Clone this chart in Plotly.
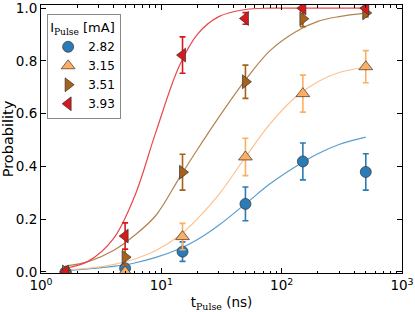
import plotly.graph_objects as go

# ---- data ----
t_data = [1.6, 5, 15, 50, 150, 500]
currents = ["2.82", "3.15", "3.51", "3.93"]

p_282 = [0.0, 0.014, 0.077, 0.258, 0.419, 0.379]
e_282 = [0.004, 0.012, 0.037, 0.064, 0.070, 0.069]
p_315 = [0.0, 0.0, 0.134, 0.436, 0.676, 0.778]
e_315 = [0.004, 0.008, 0.05, 0.071, 0.070, 0.061]
p_351 = [0.0, 0.056, 0.378, 0.721, 0.960, 0.982]
e_351 = [0.004, 0.03, 0.068, 0.063, 0.03, 0.015]
p_393 = [0.0, 0.136, 0.822, 0.961, 1.0, 1.0]
e_393 = [0.004, 0.05, 0.069, 0.022, 0.01, 0.005]

# fitted curves
t_fit = [1.6, 2.5, 4, 6, 9, 14, 20, 30, 50, 80, 130, 200, 300, 500]
f_282 = [0.006, 0.012, 0.021, 0.034, 0.055, 0.087, 0.123, 0.177, 0.258, 0.334, 0.399, 0.448, 0.483, 0.511]
f_315 = [0.008, 0.014, 0.028, 0.049, 0.081, 0.136, 0.202, 0.293, 0.435, 0.561, 0.662, 0.721, 0.756, 0.776]
f_351 = [0.022, 0.040, 0.081, 0.139, 0.214, 0.354, 0.465, 0.586, 0.728, 0.839, 0.910, 0.950, 0.968, 0.981]
f_393 = [0.014, 0.042, 0.126, 0.287, 0.530, 0.778, 0.902, 0.968, 0.995, 1.0, 1.0, 1.0, 1.0, 1.0]

x_tickvals = [1, 10, 100, 1000]
x_ticktext = ["10<sup>0</sup>", "10<sup>1</sup>", "10<sup>2</sup>", "10<sup>3</sup>"]
y_tickvals = [0.0, 0.2, 0.4, 0.6, 0.8, 1.0]
y_ticktext = ["0.0", "0.2", "0.4", "0.6", "0.8", "1.0"]

series = [
    (currents[0], p_282, e_282, f_282, "#2b7bb6", "#5b9dce", "circle", 11),
    (currents[1], p_315, e_315, f_315, "#fdae61", "#fdc28f", "triangle-up", 12),
    (currents[2], p_351, e_351, f_351, "#a6611a", "#b3824f", "triangle-right", 12),
    (currents[3], p_393, e_393, f_393, "#d7191c", "#e8474b", "triangle-left", 12),
]

fig = go.Figure()
for name, p, e, f, mc, lc, sym, sz in series:
    fig.add_trace(go.Scatter(
        x=t_fit, y=f, mode="lines", line=dict(color=lc, width=1.2, shape="spline"),
        showlegend=False, hoverinfo="skip"))
for name, p, e, f, mc, lc, sym, sz in series:
    fig.add_trace(go.Scatter(
        x=t_data, y=p, mode="markers", name=name,
        marker=dict(symbol=sym, size=sz, color=mc, line=dict(color="#333333", width=0.7)),
        error_y=dict(type="data", array=e, visible=True, color=mc, thickness=1.6, width=3),
    ))

minor_vals = [m * 10 ** k for k in range(0, 3) for m in range(2, 10)]

FS = 13.5
LFS = 12
fig.update_layout(
    width=415, height=312,
    margin=dict(l=41, r=13, t=5, b=39),
    paper_bgcolor="white", plot_bgcolor="white",
    font=dict(family="DejaVu Sans", size=FS, color="black"),
    legend=dict(
        x=0.017, y=0.965, xanchor="left", yanchor="top",
        bgcolor="white", bordercolor="#888888", borderwidth=1,
        title=dict(text="I<sub><span style='font-family:DejaVu Serif'>Pulse</span></sub> [mA]",
                   font=dict(size=13)),
        font=dict(size=LFS), tracegroupgap=0,
    ),
    xaxis=dict(
        type="log", range=[0, 3], automargin=False, ticklabeloverflow="allow",
        tickmode="array", tickvals=x_tickvals, ticktext=x_ticktext,
        ticks="inside", ticklen=5, tickcolor="black", tickwidth=1,
        tickfont=dict(size=FS),
        minor=dict(tickmode="array", tickvals=minor_vals, ticks="inside", ticklen=2.5,
                   tickcolor="black", tickwidth=0.8, showgrid=False),
        showline=True, linecolor="black", linewidth=1, mirror="allticks",
        showgrid=False, zeroline=False,
        title=dict(text="t<sub><span style='font-family:DejaVu Serif'>Pulse</span></sub> (ns)",
                   font=dict(size=FS)),
    ),
    yaxis=dict(
        range=[-0.004, 1.012], automargin=False, ticklabeloverflow="allow",
        tickmode="array", tickvals=y_tickvals, ticktext=y_ticktext,
        ticks="inside", ticklen=5, tickcolor="black", tickwidth=1,
        tickfont=dict(size=FS),
        showline=True, linecolor="black", linewidth=1, mirror="allticks",
        showgrid=False, zeroline=False,
        title=dict(text="Probability", font=dict(size=14.5)),
    ),
)

fig.write_html(
    "out.html",
    config={"displayModeBar": False},
    post_script="document.body.style.margin='0';document.body.style.padding='0';"
                "document.documentElement.style.overflow='hidden';",
)
